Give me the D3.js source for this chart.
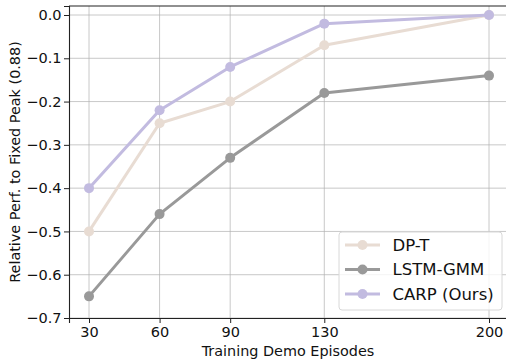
<!DOCTYPE html>
<html>
<head>
<meta charset="utf-8">
<script src="https://cdn.jsdelivr.net/npm/d3@7"></script>
<style>
  body { margin: 0; background: #fff; }
  svg { display: block; font-family: "DejaVu Sans", sans-serif; }
</style>
</head>
<body>
<svg id="chart" width="506" height="360"></svg>
<script>
// data
var episodes = [30, 60, 90, 130, 200];
var dpT = [-0.5, -0.25, -0.2, -0.07, 0.0];
var lstmGmm = [-0.65, -0.46, -0.33, -0.18, -0.14];
var carp = [-0.4, -0.22, -0.12, -0.02, 0.0];
var yTicks = [0.0, -0.1, -0.2, -0.3, -0.4, -0.5, -0.6, -0.7];

var series = [
  { name: "DP-T", values: dpT, color: "#e8dcd3" },
  { name: "LSTM-GMM", values: lstmGmm, color: "#999999" },
  { name: "CARP (Ours)", values: carp, color: "#c2bbe0" },
];

var svg = d3.select("#chart");
var margin = { top: 6, right: -3, bottom: 42, left: 69 };
var width = 506 - margin.left - margin.right;
var height = 360 - margin.top - margin.bottom;

var g = svg.append("g")
  .attr("transform", "translate(" + margin.left + "," + margin.top + ")");

var x = d3.scaleLinear().domain([21.5, 208.5]).range([0, width]);
var y = d3.scaleLinear().domain([-0.7, 0.0208]).range([height, 0]);

// grid
g.append("g").selectAll("line").data(episodes).enter().append("line")
  .attr("x1", function (d) { return x(d); })
  .attr("x2", function (d) { return x(d); })
  .attr("y1", 0).attr("y2", height)
  .attr("stroke", "#b0b0b0").attr("stroke-opacity", 0.7).attr("stroke-width", 1);
g.append("g").selectAll("line").data(yTicks).enter().append("line")
  .attr("y1", function (d) { return y(d); })
  .attr("y2", function (d) { return y(d); })
  .attr("x1", 0).attr("x2", width)
  .attr("stroke", "#b0b0b0").attr("stroke-opacity", 0.7).attr("stroke-width", 1);

// axes - matplotlib style minus sign
var fmt = function (d) {
  var s = Math.abs(d).toFixed(1);
  return d < -1e-9 ? "\u2212" + s : s;
};
var xAxis = g.append("g")
  .attr("transform", "translate(0," + height + ")")
  .call(d3.axisBottom(x).tickValues(episodes).tickSize(5).tickPadding(4));
var yAxis = g.append("g")
  .call(d3.axisLeft(y).tickValues(yTicks).tickFormat(fmt).tickSize(5).tickPadding(2.5));
[xAxis, yAxis].forEach(function (a) {
  a.attr("font-family", "DejaVu Sans").attr("font-size", 14.5);
  a.select(".domain").attr("stroke", "#222").attr("stroke-width", 1.1);
  a.selectAll(".tick line").attr("stroke", "#222");
  a.selectAll("text").attr("fill", "#111");
});

// top spine
g.append("line").attr("x1", 0).attr("x2", width).attr("y1", 0).attr("y2", 0)
  .attr("stroke", "#222").attr("stroke-width", 1.1);

// lines
var line = d3.line()
  .x(function (d, i) { return x(episodes[i]); })
  .y(function (d) { return y(d); });

series.forEach(function (s) {
  g.append("path")
    .datum(s.values)
    .attr("fill", "none")
    .attr("stroke", s.color)
    .attr("stroke-width", 3)
    .attr("stroke-linejoin", "round")
    .attr("d", line);
  g.selectAll(null).data(s.values).enter().append("circle")
    .attr("cx", function (d, i) { return x(episodes[i]); })
    .attr("cy", function (d) { return y(d); })
    .attr("r", 5)
    .attr("fill", s.color);
});

// axis labels
svg.append("text")
  .attr("x", 288).attr("y", 355.5)
  .attr("text-anchor", "middle")
  .style("font-size", "14.4px").attr("fill", "#111")
  .text("Training Demo Episodes");
svg.append("text")
  .attr("transform", "translate(19.5," + (margin.top + height / 2) + ") rotate(-90)")
  .attr("text-anchor", "middle")
  .style("font-size", "14.4px").attr("fill", "#111")
  .text("Relative Perf. to Fixed Peak (0.88)");

// legend
var lg = svg.append("g").attr("transform", "translate(339,232)");
lg.append("rect")
  .attr("width", 163).attr("height", 78).attr("rx", 3)
  .attr("fill", "#fff").attr("fill-opacity", 0.8)
  .attr("stroke", "#d8d8d8");
series.forEach(function (s, i) {
  var yy = 13 + i * 24.5;
  lg.append("line").attr("x1", 6).attr("x2", 41).attr("y1", yy).attr("y2", yy)
    .attr("stroke", s.color).attr("stroke-width", 3);
  lg.append("circle").attr("cx", 23.5).attr("cy", yy).attr("r", 5).attr("fill", s.color);
  lg.append("text").attr("x", 53.5).attr("y", yy).attr("dy", "0.36em")
    .style("font-size", "16.5px").attr("fill", "#111")
    .text(s.name);
});
</script>
</body>
</html>
